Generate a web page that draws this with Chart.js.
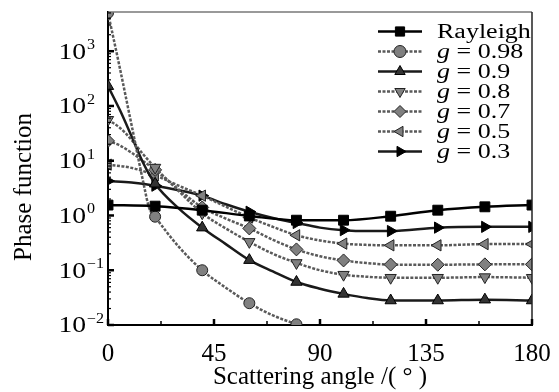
<!DOCTYPE html>
<html><head><meta charset="utf-8">
<script src="https://cdn.jsdelivr.net/npm/chart.js@4/dist/chart.umd.min.js"></script>
<style>html,body{margin:0;padding:0;background:#fff;}canvas{display:block;}</style>
</head><body>
<canvas id="c" width="559" height="392"></canvas>
<script>
// ---- data ----
const angRayleigh = [0,20,40,60,80,100,120,140,160,180];
const valRayleigh = [1.55,1.48,1.25,0.98,0.82,0.82,0.97,1.25,1.44,1.55];

const angG098 = [0,5,10,15,17.5,20,30,40,50,60,70,80,90,100,120,140,160,180];
const valG098 = [5000,500,45,4.0,1.36,0.95,0.27,0.1,0.048,0.025,0.015,0.0103,0.0072,0.0055,0.004,0.0033,0.003,0.003];

const angG09 = [0,5,10,15,20,30,40,50,60,70,80,90,100,110,120,140,160,180];
const valG09 = [230,85,28,9,3.8,1.35,0.6,0.3,0.153,0.095,0.061,0.046,0.037,0.031,0.028,0.028,0.029,0.028];

const angG08 = [0,5,10,15,20,30,40,50,60,70,80,90,100,110,120,140,160,180];
const valG08 = [56,40,24,13,7.5,2.8,1.1,0.58,0.33,0.2,0.136,0.1,0.083,0.076,0.073,0.073,0.075,0.073];

const angG07 = [0,5,10,15,20,30,40,50,60,70,80,90,100,110,120,140,160,180];
const valG07 = [23,19,14,9.8,6.8,3.0,1.4,0.88,0.58,0.36,0.24,0.18,0.151,0.135,0.127,0.126,0.128,0.128];

const angG05 = [0,10,20,30,40,50,60,70,80,90,100,110,120,140,160,180];
const valG05 = [8.5,7.4,5.4,3.5,2.3,1.45,0.92,0.62,0.435,0.35,0.306,0.29,0.285,0.285,0.30,0.30];

const angG03 = [0,10,20,30,40,50,60,70,80,90,100,110,120,140,160,180];
const valG03 = [4.26,4.0,3.5,2.9,2.3,1.6,1.17,0.9,0.73,0.6,0.54,0.52,0.52,0.6,0.62,0.62];

const seriesLabels = ['Rayleigh','g = 0.98','g = 0.9','g = 0.8','g = 0.7','g = 0.5','g = 0.3'];
const xTickValues = [0,45,90,135,180];
const xMinorValues = [22.5,67.5,112.5,157.5];
const yTickValues = [0.01,0.1,1,10,100,1000];
const yTickExponents = ['\u22122','\u22121','0','1','2','3'];
const xTitle = 'Scattering angle /( \u00B0 )';
const yTitle = 'Phase function';

const cnv = document.getElementById('c');

function pts(a,v){ return a.map((x,i)=>({x:x,y:v[i]})); }
function mk(label, a, v, o){
  const r = o.radius;
  return Object.assign({
    label: label, data: pts(a,v), borderWidth: 2.5, fill:false,
    cubicInterpolationMode:'monotone',
    pointRadius: c => (c.raw && c.raw.x % 20 === 0) ? r : 0,
    pointHoverRadius: 0, pointBorderWidth: 1
  }, o);
}
const HATCH_LINE = '#5a5a5a', HATCH_FILL = '#808080', HATCH_EDGE = '#222';
const datasets = [
  mk(seriesLabels[0], angRayleigh, valRayleigh, {borderColor:'#000', pointStyle:'rect', radius:7, pointRotation:0, pointBackgroundColor:'#000', pointBorderColor:'#000', borderDash:[]}),
  mk(seriesLabels[1], angG098, valG098, {borderColor:HATCH_LINE, pointStyle:'circle', radius:5.5, pointRotation:0, pointBackgroundColor:HATCH_FILL, pointBorderColor:HATCH_EDGE, borderDash:[3,1.5]}),
  mk(seriesLabels[2], angG09, valG09, {borderColor:'#1a1a1a', pointStyle:'triangle', radius:6.5, pointRotation:0, pointBackgroundColor:'#333', pointBorderColor:'#000', borderDash:[]}),
  mk(seriesLabels[3], angG08, valG08, {borderColor:HATCH_LINE, pointStyle:'triangle', radius:6.5, pointRotation:180, pointBackgroundColor:HATCH_FILL, pointBorderColor:HATCH_EDGE, borderDash:[3,1.5]}),
  mk(seriesLabels[4], angG07, valG07, {borderColor:HATCH_LINE, pointStyle:'rectRot', radius:6.5, pointRotation:0, pointBackgroundColor:HATCH_FILL, pointBorderColor:HATCH_EDGE, borderDash:[3,1.5]}),
  mk(seriesLabels[5], angG05, valG05, {borderColor:HATCH_LINE, pointStyle:'triangle', radius:6.5, pointRotation:270, pointBackgroundColor:HATCH_FILL, pointBorderColor:HATCH_EDGE, borderDash:[3,1.5]}),
  mk(seriesLabels[6], angG03, valG03, {borderColor:'#1a1a1a', pointStyle:'triangle', radius:6.5, pointRotation:90, pointBackgroundColor:'#000', pointBorderColor:'#000', borderDash:[]})
];

const SERIF = '"Liberation Serif", "Times New Roman", serif';

const deco = {
  id:'deco',
  afterDraw(chart){
    const ctx = chart.ctx, ca = chart.chartArea, xs = chart.scales.x, ys = chart.scales.y;
    ctx.save();
    ctx.strokeStyle = '#777'; ctx.lineWidth = 1.5;
    ctx.beginPath(); ctx.moveTo(ca.left, ca.top); ctx.lineTo(ca.right, ca.top); ctx.stroke();
    ctx.strokeStyle = '#222'; ctx.lineWidth = 1.5;
    ctx.beginPath(); ctx.moveTo(ca.right, ca.top); ctx.lineTo(ca.right, ca.bottom); ctx.stroke();
    ctx.strokeStyle = '#000';
    ctx.lineWidth = 2.5;
    xTickValues.forEach(v => { const px = xs.getPixelForValue(v); ctx.beginPath(); ctx.moveTo(px, ca.bottom); ctx.lineTo(px, ca.bottom-6); ctx.stroke(); });
    ctx.lineWidth = 1.5;
    xMinorValues.forEach(v => { const px = xs.getPixelForValue(v); ctx.beginPath(); ctx.moveTo(px, ca.bottom); ctx.lineTo(px, ca.bottom-4); ctx.stroke(); });
    yTickValues.forEach(v => {
      const py = ys.getPixelForValue(v);
      ctx.lineWidth = 2.5; ctx.beginPath(); ctx.moveTo(ca.left, py); ctx.lineTo(ca.left+6, py); ctx.stroke();
      ctx.lineWidth = 1.2;
      for (let m=2;m<=9;m++){
        const mv = v*m; if (mv > ys.max) break;
        const pm = ys.getPixelForValue(mv);
        ctx.beginPath(); ctx.moveTo(ca.left, pm); ctx.lineTo(ca.left+3, pm); ctx.stroke();
      }
    });
    ctx.fillStyle = '#000';
    yTickValues.forEach((v,i) => {
      const py = ys.getPixelForValue(v);
      ctx.font = '24px ' + SERIF; ctx.textAlign = 'right'; ctx.textBaseline = 'middle';
      ctx.save(); ctx.translate(86, py); ctx.scale(1.15,1); ctx.fillText('10', 0, 1); ctx.restore();
      ctx.font = '14px ' + SERIF; ctx.textAlign = 'left'; ctx.textBaseline = 'alphabetic';
      ctx.save(); ctx.translate(87, py); ctx.scale(1.15,1); ctx.fillText(yTickExponents[i], 0, -2); ctx.restore();
    });
    ctx.save(); ctx.translate(24, 187); ctx.rotate(-Math.PI/2);
    ctx.font = '25px ' + SERIF; ctx.textAlign = 'center'; ctx.textBaseline = 'middle';
    ctx.fillText(yTitle, 0, 0); ctx.restore();
    chart.data.datasets.forEach((ds,i) => {
      const y = 31.5 + 20*i;
      ctx.save();
      ctx.strokeStyle = ds.borderColor; ctx.lineWidth = ds.borderWidth; ctx.setLineDash(ds.borderDash || []);
      ctx.beginPath(); ctx.moveTo(378, y); ctx.lineTo(422, y); ctx.stroke();
      ctx.restore();
      ctx.fillStyle = ds.pointBackgroundColor; ctx.strokeStyle = ds.pointBorderColor; ctx.lineWidth = 1;
      Chart.helpers.drawPoint(ctx, {pointStyle: ds.pointStyle, radius: (i===0?6.5:6), rotation: ds.pointRotation, borderWidth: 1}, 400, y);
      ctx.fillStyle = '#000'; ctx.textBaseline = 'middle'; ctx.textAlign = 'left';
      const lbl = ds.label;
      ctx.save(); ctx.translate(437, y+1); ctx.scale(1.3,1);
      if (lbl.startsWith('g')) {
        ctx.font = 'italic 20px ' + SERIF; ctx.fillText('g', 0, 0);
        const w = ctx.measureText('g').width;
        ctx.font = '20px ' + SERIF; ctx.fillText(lbl.slice(1), w, 0);
      } else {
        ctx.font = '20px ' + SERIF; ctx.fillText(lbl, 0, 0);
      }
      ctx.restore();
    });
    ctx.restore();
  }
};

new Chart(cnv, {
  type:'line',
  data:{ datasets: datasets },
  options:{
    responsive:false, animation:false, events:[],
    layout:{ padding:{ top:12, right:27, left:0, bottom:0 } },
    plugins:{ legend:{display:false}, tooltip:{enabled:false} },
    scales:{
      x:{ type:'linear', min:0, max:180,
        afterBuildTicks: s => { s.ticks = xTickValues.map(v => ({value:v})); },
        ticks:{ font:{family:SERIF, size:25}, color:'#000', padding:6, maxRotation:0, autoSkip:false },
        grid:{ display:false },
        border:{ display:true, color:'#000', width:2 },
        title:{ display:true, text:xTitle, color:'#000', font:{family:SERIF, size:25}, padding:{top:0,bottom:0} },
        afterFit: s => { s.height = 67; }
      },
      y:{ type:'logarithmic', min:0.01, max:5200,
        ticks:{ display:false },
        grid:{ display:false },
        border:{ display:true, color:'#000', width:2 },
        afterFit: s => { s.width = 108; }
      }
    }
  },
  plugins:[deco]
});
</script>
</body></html>
